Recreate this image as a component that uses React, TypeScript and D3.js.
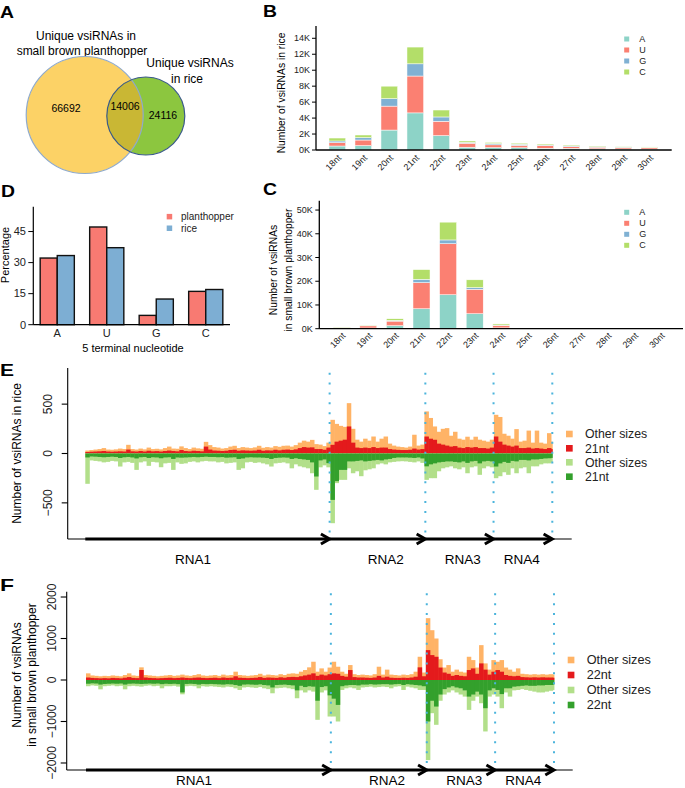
import React from "react";
import * as d3 from "d3";

const FONT = "'Liberation Sans', Arial, Helvetica, sans-serif";

// ---------- Panel A: Venn ----------
const vennSetA = ["Unique vsiRNAs in", "small brown planthopper"];
const vennSetB = ["Unique vsiRNAs", "in rice"];
const vennCounts = [66692, 14006, 24116]; // planthopper only, shared, rice only

// ---------- Panels B & C: size / 5' nucleotide ----------
const sizeLabels = ["18nt", "19nt", "20nt", "21nt", "22nt", "23nt", "24nt", "25nt", "26nt", "27nt", "28nt", "29nt", "30nt"];
const nucleotides = ["A", "U", "G", "C"];
const nucColors = ["#8DD3C7", "#FB8072", "#80B1D3", "#B3DE69"];

const riceA = [500, 550, 2500, 4650, 1800, 350, 300, 280, 220, 200, 150, 130, 120];
const riceU = [420, 700, 3000, 4620, 1800, 500, 350, 300, 330, 220, 200, 170, 160];
const riceG = [210, 300, 930, 1530, 540, 100, 150, 140, 70, 80, 70, 60, 50];
const riceC = [370, 330, 1570, 2100, 870, 180, 150, 130, 130, 120, 80, 60, 50];

const sbphA = [150, 300, 1260, 8400, 14300, 6300, 350, 60, 30, 20, 20, 10, 10];
const sbphU = [350, 900, 1940, 11000, 21500, 10300, 1050, 80, 40, 30, 20, 20, 20];
const sbphG = [50, 50, 300, 1400, 1600, 700, 100, 20, 10, 10, 10, 10, 10];
const sbphC = [150, 150, 700, 4100, 7500, 3300, 500, 40, 20, 20, 10, 10, 10];

const riceTicks = [0, 2000, 4000, 6000, 8000, 10000, 12000, 14000];
const sbphTicks = [0, 10000, 20000, 30000, 40000, 50000];

// ---------- Panel D: 5' terminal nucleotide percentage ----------
const pctGroups = ["planthopper", "rice"];
const pctColors = ["#F87A72", "#7DAED3"];
const planthopperPct = [32.2, 47.2, 4.5, 16.1];
const ricePct = [33.4, 37.2, 12.4, 17.0];
const pctTicks = [0, 15, 30, 45];

// ---------- Panels E & F: genome coverage ----------
const segments = [
  { name: "RNA1", length: 8970, labelAt: 3954 },
  { name: "RNA2", length: 3514, labelAt: 11028 },
  { name: "RNA3", length: 2504, labelAt: 13855 },
  { name: "RNA4", length: 2157, labelAt: 16021 },
];
const BIN_NT = 150;

// rice (E): sense all sizes, sense 21nt, antisense all sizes (magnitude), antisense 21nt (magnitude)
const riceSenseAll = [
  30, 35, 40, 45, 55, 40, 38, 42, 50, 45,
  88, 45, 40, 50, 42, 60, 45, 48, 42, 55,
  70, 50, 48, 72, 55, 45, 60, 52, 48, 118,
  85, 65, 60, 50, 55, 70, 78, 55, 65, 60,
  55, 62, 78, 58, 65, 60, 75, 68, 78, 80,
  70, 85, 110, 130, 120, 138, 95, 90, 75, 110,
  341, 300, 280, 270, 510, 250, 140, 120, 150, 130,
  172, 120, 150, 172, 100, 80, 70, 65, 60, 70,
  190, 80, 90,
  426, 360, 274, 220, 250, 257, 180, 220, 150, 140, 170, 140, 170, 140, 130, 120, 140,
  392, 370, 200, 180, 150, 247, 120, 130, 232, 110, 232, 110, 100, 206, 120,
];
const riceSense21 = [
  15, 18, 20, 22, 25, 20, 18, 20, 22, 20,
  40, 22, 20, 25, 20, 28, 22, 24, 20, 25,
  30, 25, 22, 35, 25, 22, 28, 25, 22, 70,
  40, 30, 28, 25, 28, 35, 38, 28, 32, 30,
  28, 30, 38, 28, 32, 30, 38, 32, 38, 40,
  35, 42, 55, 65, 60, 62, 45, 45, 38, 60,
  88, 120, 130, 140, 274, 110, 60, 55, 60, 55,
  65, 55, 60, 60, 45, 40, 37, 35, 35, 38,
  50, 40, 45,
  172, 150, 139, 100, 90, 80, 70, 75, 60, 55, 65, 60, 65, 55, 55, 50, 60,
  172, 120, 90, 80, 70, 80, 55, 55, 60, 50, 55, 50, 45, 55, 45,
];
const riceAntiAll = [
  307, 70, 75, 80, 90, 85, 75, 80, 132, 90,
  85, 95, 166, 90, 80, 125, 85, 90, 139, 100,
  95, 166, 90, 105, 100, 85, 80, 90, 80, 75,
  80, 80, 90, 85, 100, 95, 90, 166, 150, 90,
  85, 95, 90, 100, 110, 132, 100, 95, 90, 100,
  150, 110, 130, 140, 150, 200, 368, 140, 120, 140,
  706, 300, 267, 267, 150, 200, 180, 230, 170, 160,
  150, 110, 100, 110, 90, 85, 80, 78, 80, 85,
  90, 80, 95,
  267, 250, 250, 180, 150, 140, 130, 150, 160, 140, 200, 140, 130, 216, 150, 130, 140,
  250, 230, 190, 216, 150, 200, 150, 140, 200, 130, 130, 110, 100, 100, 90,
];
const riceAnti21 = [
  40, 30, 32, 35, 38, 35, 32, 35, 45, 38,
  35, 40, 50, 38, 35, 45, 38, 40, 48, 40,
  38, 55, 40, 42, 40, 38, 35, 38, 35, 32,
  35, 35, 38, 36, 42, 40, 38, 55, 50, 40,
  38, 40, 40, 42, 45, 55, 45, 42, 40, 42,
  55, 48, 55, 60, 65, 90, 233, 70, 60, 98,
  470, 280, 166, 166, 80, 80, 75, 70, 80, 75,
  70, 65, 70, 60, 55, 45, 40, 40, 40, 42,
  45, 40, 50,
  130, 110, 100, 90, 85, 80, 80, 85, 90, 80, 95, 80, 75, 100, 80, 75, 80,
  132, 100, 85, 95, 75, 80, 65, 65, 70, 60, 60, 55, 50, 48, 45,
];

// small brown planthopper (F)
const sbphSenseAll = [
  160, 110, 100, 90, 100, 95, 110, 100, 90, 120,
  160, 110, 100, 305, 120, 110, 100, 90, 100, 110,
  120, 100, 110, 130, 110, 100, 120, 140, 110, 100,
  110, 120, 100, 130, 110, 120, 200, 120, 110, 100,
  110, 120, 150, 110, 130, 120, 110, 140, 120, 150,
  160, 150, 200, 240, 305, 440, 200, 280, 200, 300,
  440, 320, 200, 150, 360, 140, 120, 130, 120, 110,
  140, 320, 130, 250, 130, 120, 110, 130, 120, 140,
  200, 560, 180,
  1490, 1200, 1000, 500, 300, 360, 200, 250, 200, 180, 560, 480, 300, 840, 400, 250, 480,
  440, 480, 300, 250, 200, 280, 150, 140, 130, 140, 130, 140, 130, 140, 130,
];
const sbphSense22 = [
  60, 50, 45, 40, 45, 40, 50, 45, 40, 55,
  70, 50, 45, 241, 60, 50, 45, 40, 45, 50,
  55, 45, 50, 60, 50, 45, 55, 60, 50, 45,
  50, 55, 45, 60, 50, 55, 90, 55, 50, 45,
  50, 55, 70, 50, 60, 55, 50, 65, 55, 70,
  75, 70, 90, 110, 130, 160, 100, 130, 110, 140,
  160, 150, 100, 80, 240, 70, 60, 60, 55, 50,
  60, 100, 60, 80, 55, 50, 50, 55, 50, 60,
  80, 305, 90,
  720, 600, 560, 300, 180, 150, 100, 120, 100, 90, 240, 280, 150, 400, 250, 130, 200,
  240, 200, 120, 100, 90, 100, 70, 65, 60, 65, 60, 65, 60, 60, 55,
];
const sbphAntiAll = [
  150, 130, 140, 225, 150, 140, 130, 150, 140, 225,
  150, 140, 150, 160, 140, 130, 150, 140, 200, 150,
  150, 140, 160, 345, 150, 140, 150, 200, 150, 160,
  150, 160, 170, 180, 160, 170, 200, 240, 180, 170,
  180, 190, 170, 200, 220, 320, 200, 190, 180, 200,
  220, 440, 250, 300, 250, 280, 960, 300, 250, 880,
  880, 1000, 240, 200, 180, 200, 240, 180, 170, 160,
  180, 170, 160, 170, 200, 160, 150, 240, 160, 180,
  200, 240, 240,
  1930, 800, 1080, 500, 350, 300, 250, 300, 350, 400, 720, 500, 400, 560, 1240, 400, 350,
  400, 680, 300, 400, 250, 240, 220, 240, 260, 280, 300, 300, 280, 260, 240,
];
const sbphAnti22 = [
  90, 80, 85, 110, 95, 90, 85, 90, 85, 110,
  90, 85, 90, 95, 90, 85, 90, 85, 100, 90,
  95, 90, 100, 300, 95, 90, 95, 110, 95, 100,
  95, 100, 105, 110, 100, 105, 120, 140, 110, 105,
  110, 115, 105, 120, 130, 180, 120, 115, 110, 120,
  130, 250, 140, 170, 150, 160, 500, 170, 150, 370,
  450, 600, 150, 130, 120, 120, 130, 110, 110, 100,
  110, 105, 100, 100, 110, 100, 95, 120, 100, 110,
  120, 130, 150,
  1000, 500, 640, 350, 220, 180, 150, 180, 200, 250, 400, 350, 280, 350, 680, 250, 200,
  240, 340, 200, 200, 160, 150, 140, 130, 140, 140, 130, 130, 120, 120, 110,
];

const riceTicksE = [-500, 0, 500];
const sbphTicksF = [-2000, -1000, 0, 1000, 2000];

const ORANGE = "#FFB366";
const RED = "#E41A1C";
const LGREEN = "#B2DF8A";
const DGREEN = "#33A02C";
const DOTBLUE = "#4BB4DC";

// ---------- helpers ----------
function PanelLabel({ x, y, t }: { x: number; y: number; t: string }) {
  return (
    <text x={x} y={y} fontSize={17} fontWeight="bold" textLength={14} lengthAdjust="spacingAndGlyphs">
      {t}
    </text>
  );
}

function PanelA() {
  const big = { cx: 84.7, cy: 115, r: 58.5 };
  const small = { cx: 145.8, cy: 116, r: 39 };
  return (
    <g>
      <defs>
        <clipPath id="bigClip">
          <circle cx={big.cx} cy={big.cy} r={big.r} />
        </clipPath>
      </defs>
      <PanelLabel x={0} y={18} t="A" />
      <text x={86} y={40} fontSize={12} textAnchor="middle">{vennSetA[0]}</text>
      <text x={82} y={55} fontSize={12} textAnchor="middle">{vennSetA[1]}</text>
      <text x={190} y={67} fontSize={12} textAnchor="middle">{vennSetB[0]}</text>
      <text x={187} y={83} fontSize={12} textAnchor="middle">{vennSetB[1]}</text>
      <circle {...big} fill="#FCD266" />
      <circle {...small} fill="#8CC63F" />
      <circle {...small} fill="#C9B734" clipPath="url(#bigClip)" />
      <circle {...big} fill="none" stroke="#8FAACC" strokeWidth={1.2} />
      <circle {...small} fill="none" stroke="#3A5A8A" strokeWidth={1.2} />
      <text x={66} y={112} fontSize={10.5} textAnchor="middle">{vennCounts[0]}</text>
      <text x={125} y={110} fontSize={10.5} textAnchor="middle">{vennCounts[1]}</text>
      <text x={163} y={119} fontSize={10.5} textAnchor="middle">{vennCounts[2]}</text>
    </g>
  );
}

type StackCfg = {
  label: string;
  labelPos: [number, number];
  series: number[][];
  yMax: number;
  yTop: number;
  yBottom: number;
  axisX: number;
  axisEnd: number;
  bandRange: [number, number];
  ticks: number[];
  tickLabelX: number;
  titleLines: string[];
  titleXs: number[];
  titleY: number;
  xLabelY: number;
  legendX: number;
  legendYs: number[];
};

function StackPanel({ cfg }: { cfg: StackCfg }) {
  const y = d3.scaleLinear([0, cfg.yMax], [cfg.yBottom, cfg.yTop]);
  const x = d3.scaleBand(sizeLabels, cfg.bandRange).paddingInner(0.36).paddingOuter(0.18);
  const rows = sizeLabels.map((s, i) => {
    const obj: any = { size: s };
    nucleotides.forEach((n, k) => (obj[n] = cfg.series[k][i]));
    return obj;
  });
  const stack = d3.stack().keys(nucleotides)(rows);
  return (
    <g>
      <PanelLabel x={cfg.labelPos[0]} y={cfg.labelPos[1]} t={cfg.label} />
      {stack.map((layer, k) =>
        layer.map((d, i) => (
          <rect
            key={k + "-" + i}
            x={x(sizeLabels[i])}
            width={x.bandwidth()}
            y={y(d[1])}
            height={Math.max(0, y(d[0]) - y(d[1]))}
            fill={nucColors[k]}
            stroke="#fff"
            strokeWidth={0.5}
          />
        ))
      )}
      <line x1={cfg.axisX} x2={cfg.axisX} y1={cfg.yTop} y2={cfg.yBottom} stroke="#000" strokeWidth={1.3} />
      <line x1={cfg.axisX} x2={cfg.axisEnd} y1={cfg.yBottom} y2={cfg.yBottom} stroke="#000" strokeWidth={1.3} />
      {cfg.ticks.map((t) => (
        <g key={t}>
          <line x1={cfg.axisX - 4} x2={cfg.axisX} y1={y(t)} y2={y(t)} stroke="#000" strokeWidth={1} />
          <text x={cfg.tickLabelX} y={y(t)} dy="0.35em" fontSize={9} textAnchor="end" fill="#222">
            {t / 1000 + "K"}
          </text>
        </g>
      ))}
      {sizeLabels.map((s) => {
        const cx = (x(s) as number) + x.bandwidth() / 2;
        return (
          <text key={s} transform={`translate(${cx + 4.4},${cfg.xLabelY}) rotate(-45)`} fontSize={9} textAnchor="end" fill="#222">
            {s}
          </text>
        );
      })}
      {cfg.titleLines.map((t, i) => (
        <text key={i} transform={`translate(${cfg.titleXs[i]},${cfg.titleY}) rotate(-90)`} dy="0.35em" fontSize={10.3} textAnchor="middle">
          {t}
        </text>
      ))}
      {nucleotides.map((n, k) => (
        <g key={n}>
          <rect x={cfg.legendX - 2.5} y={cfg.legendYs[k] - 2.5} width={5} height={5} fill={nucColors[k]} />
          <text x={cfg.legendX + 12.5} y={cfg.legendYs[k]} dy="0.35em" fontSize={9} fill="#222">{n}</text>
        </g>
      ))}
    </g>
  );
}

function PanelD() {
  const y = d3.scaleLinear([0, 57], [324.7, 206.7]);
  const x = d3.scaleBand(nucleotides, [32.5, 230.5]).paddingInner(0.31).paddingOuter(0.155);
  const sub = d3.scaleBand(pctGroups, [0, x.bandwidth()]);
  const vals = [planthopperPct, ricePct];
  return (
    <g>
      <PanelLabel x={1} y={197} t="D" />
      {nucleotides.map((n, i) =>
        pctGroups.map((g, k) => (
          <rect
            key={n + g}
            x={(x(n) as number) + (sub(g) as number)}
            width={sub.bandwidth()}
            y={y(vals[k][i])}
            height={y(0) - y(vals[k][i])}
            fill={pctColors[k]}
            stroke="#111"
            strokeWidth={1.4}
          />
        ))
      )}
      <line x1={33.3} x2={33.3} y1={206.7} y2={324.7} stroke="#000" strokeWidth={1.2} />
      <line x1={33.3} x2={230} y1={324.7} y2={324.7} stroke="#000" strokeWidth={1.2} />
      {pctTicks.map((t) => (
        <g key={t}>
          <line x1={28.3} x2={33.3} y1={y(t)} y2={y(t)} stroke="#000" />
          <text x={26} y={y(t)} dy="0.35em" fontSize={11} textAnchor="end" fill="#222">{t}</text>
        </g>
      ))}
      {nucleotides.map((n) => (
        <text key={n} x={(x(n) as number) + x.bandwidth() / 2} y={336.5} fontSize={11} textAnchor="middle" fill="#222">{n}</text>
      ))}
      <text x={133} y={352} fontSize={11} textAnchor="middle">5 terminal nucleotide</text>
      <text transform="translate(5,255) rotate(-90)" dy="0.35em" fontSize={11} textAnchor="middle">Percentage</text>
      {pctGroups.map((g, k) => (
        <g key={g}>
          <rect x={166.7} y={[216.7, 228.3][k] - 2.8} width={5.5} height={5.5} fill={pctColors[k]} />
          <text x={181} y={[216.7, 228.3][k]} dy="0.35em" fontSize={10} fill="#222">{g}</text>
        </g>
      ))}
    </g>
  );
}

type CovCfg = {
  label: string;
  labelY: number;
  senseAll: number[];
  sense: number[];
  antiAll: number[];
  anti: number[];
  sizeName: string;
  xRange: [number, number];
  yDomain: [number, number];
  yTop: number;
  yBottom: number;
  axisX: number;
  axisEnd: number;
  ticks: number[];
  tickLabelX: number;
  titleLines: string[];
  titleXs: number[];
  titleY: number;
  dotTop: number;
  segLabelY: number;
  legendTextX: number;
  legendYs: number[];
  legendFont: number;
};

function Coverage({ cfg }: { cfg: CovCfg }) {
  const total = d3.sum(segments, (s) => s.length);
  const x = d3.scaleLinear([0, total], cfg.xRange);
  const y = d3.scaleLinear(cfg.yDomain, [cfg.yBottom, cfg.yTop]);
  const ends = d3.cumsum(segments.map((s) => s.length));
  const starts = [0, ...Array.from(ends).slice(0, -1)];
  const binX = (i: number) => [x(i * BIN_NT), x(Math.min((i + 1) * BIN_NT, total))];
  const bars = (vals: number[], sign: number, color: string) =>
    vals.map((v, i) => {
      const [a, b] = binX(i);
      const y0 = y(0);
      const y1 = y(sign * v);
      return <rect key={color + i} x={a} width={b - a + 0.4} y={Math.min(y0, y1)} height={Math.abs(y1 - y0)} fill={color} />;
    });
  const by = cfg.yBottom;
  const legend = [
    { t: "Other sizes", c: ORANGE },
    { t: cfg.sizeName, c: RED },
    { t: "Other sizes", c: LGREEN },
    { t: cfg.sizeName, c: DGREEN },
  ];
  return (
    <g>
      <PanelLabel x={0} y={cfg.labelY} t={cfg.label} />
      {bars(cfg.senseAll, 1, ORANGE)}
      {bars(cfg.sense, 1, RED)}
      {bars(cfg.antiAll, -1, LGREEN)}
      {bars(cfg.anti, -1, DGREEN)}
      <line x1={cfg.axisX} x2={cfg.axisX} y1={cfg.yTop} y2={by} stroke="#000" strokeWidth={1.1} />
      <line x1={cfg.axisX} x2={cfg.axisEnd} y1={by} y2={by} stroke="#000" strokeWidth={1.1} />
      {cfg.ticks.map((t) => (
        <g key={t}>
          <line x1={cfg.axisX - 6} x2={cfg.axisX} y1={y(t)} y2={y(t)} stroke="#000" strokeWidth={1.1} />
          <text transform={`translate(${cfg.tickLabelX},${y(t)}) rotate(-90)`} dy="0.35em" fontSize={12} textAnchor="middle" fill="#222">
            {t < 0 ? "\u2212" + Math.abs(t) : String(t)}
          </text>
        </g>
      ))}
      {cfg.titleLines.map((t, i) => (
        <text key={i} transform={`translate(${cfg.titleXs[i]},${cfg.titleY}) rotate(-90)`} dy="0.35em" fontSize={12} textAnchor="middle">
          {t}
        </text>
      ))}
      {segments.map((s, i) => {
        const xs = x(starts[i]);
        const xe = x(ends[i]);
        return (
          <g key={s.name}>
            <line x1={xs} x2={xe - 1} y1={by} y2={by} stroke="#000" strokeWidth={3.2} />
            <polyline
              points={`${xe - 8.7},${by - 5} ${xe},${by} ${xe - 8.7},${by + 5}`}
              fill="none"
              stroke="#000"
              strokeWidth={3}
              strokeLinejoin="miter"
            />
            <text x={x(s.labelAt)} y={cfg.segLabelY} fontSize={13.5} textAnchor="middle">{s.name}</text>
          </g>
        );
      })}
      {Array.from(ends).map((e, i) => (
        <line key={i} x1={x(e)} x2={x(e)} y1={cfg.dotTop} y2={by} stroke={DOTBLUE} strokeWidth={2} strokeDasharray="2 7.87" />
      ))}
      {legend.map((l, i) => (
        <g key={i}>
          <rect x={cfg.legendTextX - 19} y={cfg.legendYs[i] - 3.3} width={6.7} height={6.6} fill={l.c} />
          <text x={cfg.legendTextX} y={cfg.legendYs[i]} dy="0.35em" fontSize={cfg.legendFont} fill="#222">{l.t}</text>
        </g>
      ))}
    </g>
  );
}

const cfgB: StackCfg = {
  label: "B",
  labelPos: [263, 17],
  series: [riceA, riceU, riceG, riceC],
  yMax: 15540,
  yTop: 26,
  yBottom: 150,
  axisX: 316,
  axisEnd: 671.7,
  bandRange: [324.3, 662.3],
  ticks: riceTicks,
  tickLabelX: 310,
  titleLines: ["Number of vsiRNAs in rice"],
  titleXs: [281.7],
  titleY: 93,
  xLabelY: 158.5,
  legendX: 626.7,
  legendYs: [39, 50, 61, 72],
};

const cfgC: StackCfg = {
  label: "C",
  labelPos: [263, 195],
  series: [sbphA, sbphU, sbphG, sbphC],
  yMax: 53940,
  yTop: 200.7,
  yBottom: 328.7,
  axisX: 319.3,
  axisEnd: 683,
  bandRange: [328.4, 674.2],
  ticks: sbphTicks,
  tickLabelX: 312.7,
  titleLines: ["Number of vsiRNAs", "in small brown planthopper"],
  titleXs: [273, 288],
  titleY: 270,
  xLabelY: 336.2,
  legendX: 626.7,
  legendYs: [212.3, 223.3, 234.3, 245.3],
};

const cfgE: CovCfg = {
  label: "E",
  labelY: 376,
  senseAll: riceSenseAll,
  sense: riceSense21,
  antiAll: riceAntiAll,
  anti: riceAnti21,
  sizeName: "21nt",
  xRange: [85.3, 552.3],
  yDomain: [-866, 866],
  yTop: 368,
  yBottom: 539,
  axisX: 67.7,
  axisEnd: 571.7,
  ticks: riceTicksE,
  tickLabelX: 47.7,
  titleLines: ["Number of vsiRNAs in rice"],
  titleXs: [17],
  titleY: 453.5,
  dotTop: 372.7,
  segLabelY: 564,
  legendTextX: 585,
  legendYs: [434, 448.3, 462.3, 476.7],
  legendFont: 12.3,
};

const cfgF: CovCfg = {
  label: "F",
  labelY: 591,
  senseAll: sbphSenseAll,
  sense: sbphSense22,
  antiAll: sbphAntiAll,
  anti: sbphAnti22,
  sizeName: "22nt",
  xRange: [86, 554],
  yDomain: [-2169, 2128],
  yTop: 591.7,
  yBottom: 770,
  axisX: 66.7,
  axisEnd: 572.7,
  ticks: sbphTicksF,
  tickLabelX: 52,
  titleLines: ["Number of vsiRNAs", "in small brown planthopper"],
  titleXs: [17, 32],
  titleY: 675,
  dotTop: 593.3,
  segLabelY: 784.5,
  legendTextX: 586.7,
  legendYs: [660, 675, 690, 705],
  legendFont: 12.7,
};

export default function App() {
  return (
    <svg
      width={685}
      height={788}
      style={{ position: "absolute", left: 0, top: 0, background: "#fff" }}
      fontFamily={FONT}
    >
      <rect width={685} height={788} fill="#fff" />
      <PanelA />
      <StackPanel cfg={cfgB} />
      <StackPanel cfg={cfgC} />
      <PanelD />
      <Coverage cfg={cfgE} />
      <Coverage cfg={cfgF} />
    </svg>
  );
}
